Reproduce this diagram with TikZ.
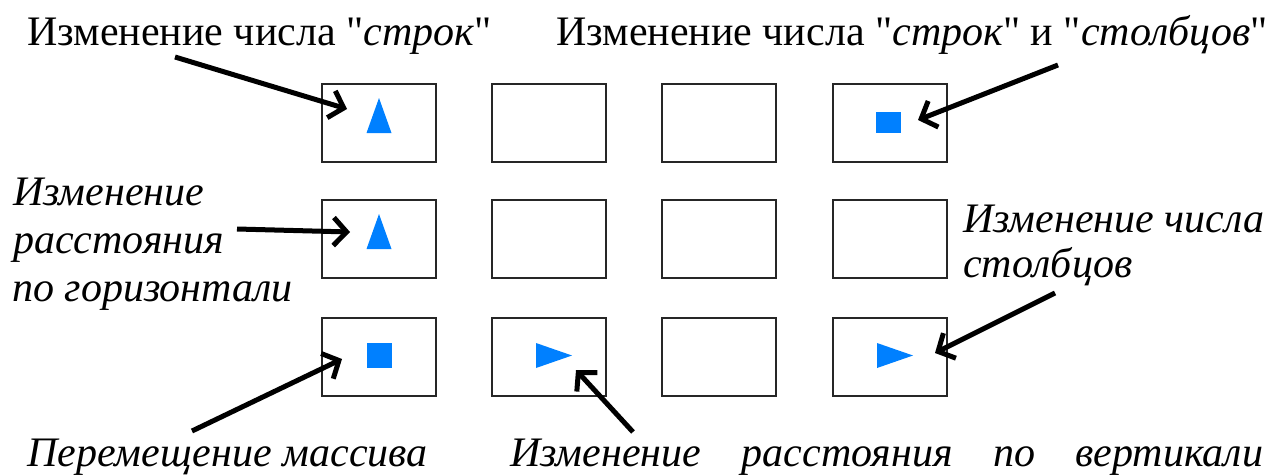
\documentclass[tikz,border=0pt]{standalone}
\usepackage{fontspec}
\setmainfont{Liberation Serif}[ItalicFont={Liberation Serif Italic},BoldFont={Liberation Serif Bold},Ligatures={TeXOff,NoCommon}]
\usetikzlibrary{arrows.meta}
\definecolor{blu}{RGB}{0,128,255}
\newcommand\dq{\char34\relax}
\begin{document}
\begin{tikzpicture}[x=1pt,y=-1pt,
  cell/.style={draw=black!85, line width=2.2pt, minimum width=114pt, minimum height=78pt, inner sep=0pt, anchor=north west},
  lbl/.style={anchor=base west, inner sep=0pt, font=\fontsize{42}{48}\selectfont},
  ptr/.style={line width=5pt, -{Straight Barb[length=13pt,width=28pt]}},
  shp/.style={fill=blu}
]
\useasboundingbox (0,0) rectangle (1276,474);
% grid of cells
\foreach \r/\yy in {1/83,2/199,3/317}{
  \foreach \c/\xx in {1/321,2/491,3/661,4/832}{
    \node[cell] (b\r\c) at (\xx,\yy) {};
  }
}
% markers
\fill[shp] (366.5,133) -- (379,98) -- (391.5,133) -- cycle;
\fill[shp] (366.5,249) -- (379,214) -- (391.5,249) -- cycle;
\fill[shp] (876,112) rectangle (901,133);
\fill[shp] (367,343) rectangle (392,368);
\fill[shp] (536,343) -- (572,355.5) -- (536,368) -- cycle;
\fill[shp] (877,343) -- (913,355.5) -- (877,368) -- cycle;
% labels
\node[lbl] (t1) at (27,45) {Изменение числа \dq\textit{строк}\dq};
\node[lbl,anchor=base east] (t2) at (1268,45) {Изменение числа \dq\textit{строк}\dq{} и \dq\textit{столбцов}\dq};
\node[lbl] (t3a) at (13,205) {\itshape Изменение};
\node[lbl] (t3b) at (13,253) {\itshape расстояния};
\node[lbl] (t3c) at (12,301) {\itshape по горизонтали};
\node[lbl] (t4a) at (963,232) {\itshape Изменение числа};
\node[lbl] (t4b) at (963,277) {\itshape столбцов};
\node[lbl] (t5) at (27,466) {\itshape Перемещение массива};
\node[lbl] (t6) at (510,466) {\makebox[753pt][s]{\itshape Изменение расстояния по вертикали}};
% arrow coordinates
\coordinate (s1) at (175,57);   \coordinate (e1) at (347,109);
\coordinate (s2) at (1058,65);  \coordinate (e2) at (918,120);
\coordinate (s3) at (237,229);  \coordinate (e3) at (350,232);
\coordinate (s4) at (1055,293); \coordinate (e4) at (935,353);
\coordinate (s5) at (192,431);  \coordinate (e5) at (342,359);
\coordinate (s6) at (633,432);  \coordinate (e6) at (576,370);
\foreach \i in {1,...,6}{ \draw[ptr] (s\i) -- (e\i); }
\end{tikzpicture}
\end{document}
